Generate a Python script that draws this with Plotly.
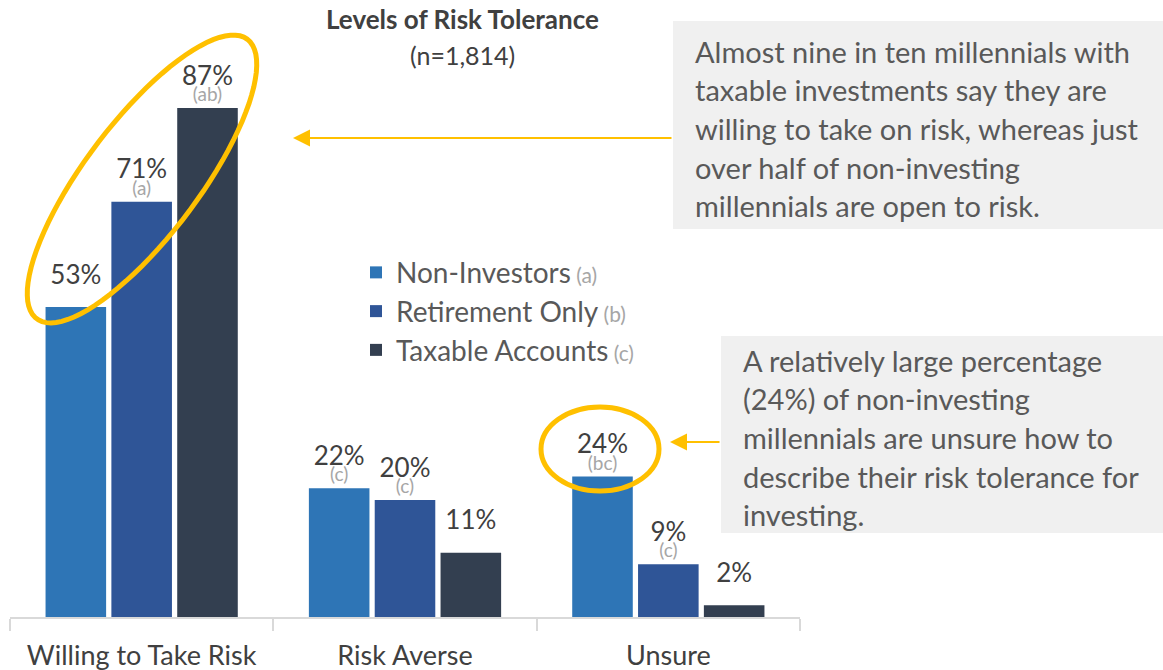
import numpy as np
import plotly.graph_objects as go

# Data
categories = ["Willing to Take Risk", "Risk Averse", "Unsure"]
series_names = ["Non-Investors", "Retirement Only", "Taxable Accounts"]
series_tags = ["(a)", "(b)", "(c)"]
non_investors = [53, 22, 24]
retirement_only = [71, 20, 9]
taxable_accounts = [87, 11, 2]
sig_non_investors = ["", "(c)", "(bc)"]
sig_retirement_only = ["(a)", "(c)", "(c)"]
sig_taxable_accounts = ["(ab)", "", ""]
colors = ["#2E75B6", "#2F5597", "#333F50"]

note_top = [
    "Almost nine in ten millennials with",
    "taxable investments say they are",
    "willing to take on risk, whereas just",
    "over half of non-investing",
    "millennials are open to risk.",
]
note_bottom = [
    "A relatively large percentage",
    "(24%) of non-investing",
    "millennials are unsure how to",
    "describe their risk tolerance for",
    "investing.",
]

FONT = "Lato"
W, H = 1163, 670
L, R, T, B = 10, 800, 32, 617  # plot area in pixels


def px(x):
    return (x - L) / (R - L)


def py(y):
    return (B - y) / (B - T)


fig = go.Figure()

values = [non_investors, retirement_only, taxable_accounts]
sigs = [sig_non_investors, sig_retirement_only, sig_taxable_accounts]
for name, tag, vals, sg, col in zip(series_names, series_tags, values, sigs, colors):
    labels = [
        f"<span style='font-size:26px;color:#404040'>{v}%</span><br>"
        f"<span style='font-size:19px'>{s if s else '\u00a0'}</span>"
        for v, s in zip(vals, sg)
    ]
    fig.add_trace(
        go.Bar(
            x=categories,
            y=vals,
            name=f"<span style='font-size:28px'>{name}</span>"
                 f"<span style='font-size:21px;color:#A6A6A6'> {tag}</span>",
            marker=dict(color=col, line=dict(width=0)),
            text=labels,
            textposition="outside",
            textfont=dict(family=FONT, size=12.5, color="#A6A6A6"),
            constraintext="none",
            cliponaxis=False,
            hoverinfo="skip",
        )
    )

# Callout ellipse around the first group (rotated)
cx, cy, a, b, th = 142, 179, 175, 57, np.deg2rad(53)
t = np.linspace(0, 2 * np.pi, 90)
ex = cx + a * np.cos(t) * np.cos(th) - b * np.sin(t) * np.sin(th)
ey = cy - (a * np.cos(t) * np.sin(th) + b * np.sin(t) * np.cos(th))
path = "M " + " L ".join(f"{px(x):.4f},{py(y):.4f}" for x, y in zip(ex, ey)) + " Z"

shapes = [
    dict(type="path", xref="paper", yref="paper", path=path,
         line=dict(color="#FFC000", width=5), layer="above"),
    dict(type="circle", xref="paper", yref="paper",
         x0=px(541), x1=px(659), y0=py(407), y1=py(491),
         line=dict(color="#FFC000", width=5), layer="above"),
    dict(type="rect", xref="paper", yref="paper",
         x0=px(673), x1=px(1163), y0=py(21), y1=py(229),
         fillcolor="#F0F0F0", line=dict(width=0), layer="below"),
    dict(type="rect", xref="paper", yref="paper",
         x0=px(721), x1=px(1163), y0=py(336), y1=py(533),
         fillcolor="#F0F0F0", line=dict(width=0), layer="below"),
]

annotations = [
    dict(x=px(462), y=py(19), xref="paper", yref="paper", showarrow=False,
         xanchor="center", yanchor="middle",
         text="<b>Levels of Risk Tolerance</b>",
         font=dict(family=FONT, size=26, color="#404040")),
    dict(x=px(462), y=py(55), xref="paper", yref="paper", showarrow=False,
         xanchor="center", yanchor="middle",
         text="(n=1,814)", font=dict(family=FONT, size=25, color="#404040")),
    # arrows
    dict(x=px(293), y=py(138), xref="paper", yref="paper", text="",
         showarrow=True, ax=673 - 293, ay=0, arrowhead=2, arrowsize=1.7,
         arrowwidth=2, arrowcolor="#FFC000", standoff=0, startstandoff=0),
    dict(x=px(670), y=py(442), xref="paper", yref="paper", text="",
         showarrow=True, ax=721 - 670, ay=0, arrowhead=2, arrowsize=1.7,
         arrowwidth=2, arrowcolor="#FFC000", standoff=0, startstandoff=0),
]

for lines, x0, y0 in [(note_top, 693, 51), (note_bottom, 741, 360)]:
    for i, line in enumerate(lines):
        annotations.append(
            dict(x=px(x0), y=py(y0 + i * 38.7), xref="paper", yref="paper",
                 xanchor="left", yanchor="middle", showarrow=False, text=line,
                 font=dict(family=FONT, size=29, color="#595959"))
        )

fig.update_layout(
    width=W,
    height=H,
    margin=dict(l=L, r=W - R, t=T, b=H - B, pad=0),
    paper_bgcolor="white",
    plot_bgcolor="white",
    barmode="group",
    bargap=0.25,
    bargroupgap=0.08,
    font=dict(family=FONT, color="#404040"),
    showlegend=True,
    legend=dict(
        x=px(356), y=py(248), xanchor="left", yanchor="top",
        font=dict(family=FONT, size=27.5, color="#595959"),
        bgcolor="rgba(0,0,0,0)", borderwidth=0,
    ),
    xaxis=dict(
        type="category",
        range=[-0.5, 2.5],
        automargin=False,
        showline=True, linecolor="#D9D9D9", linewidth=1.5,
        ticks="outside", tickson="boundaries", ticklen=12,
        tickcolor="#D9D9D9", tickwidth=1.5,
        tickfont=dict(family=FONT, size=27, color="#404040"),
        ticklabelstandoff=14,
        showgrid=False, zeroline=False, fixedrange=True,
    ),
    yaxis=dict(range=[0, 100], visible=False, fixedrange=True, automargin=False),
    shapes=shapes,
    annotations=annotations,
)

# page body has a default 8px margin; drop it so the figure sits at (0, 0)
fig.write_html(
    "out.html",
    config={"displayModeBar": False},
    post_script="document.body.style.margin='0';",
)
